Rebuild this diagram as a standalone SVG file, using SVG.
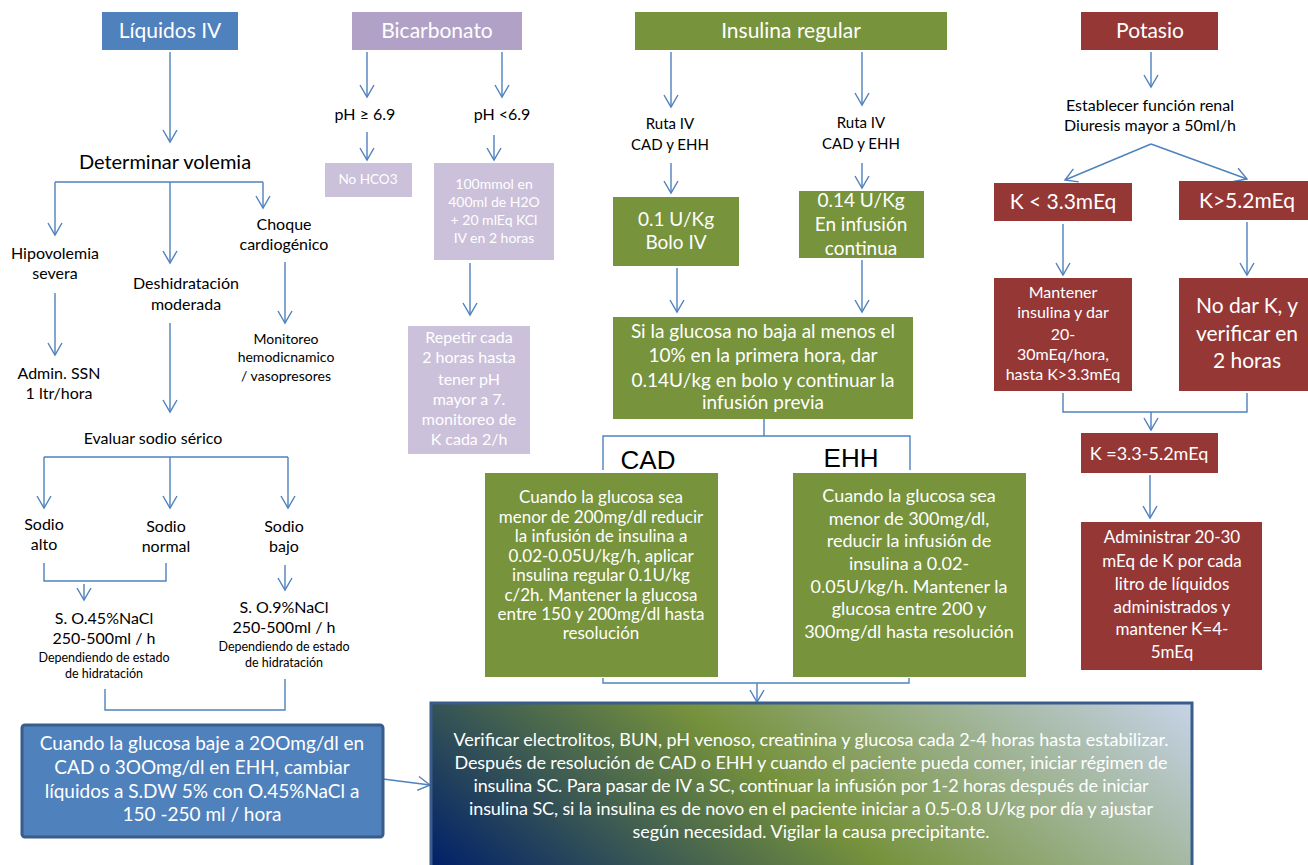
<svg xmlns="http://www.w3.org/2000/svg" width="1308" height="865" viewBox="0 0 1308 865">
<defs>
<style>
.t{font-family:Lato,'Open Sans','Liberation Sans',sans-serif;text-anchor:middle}
.w{fill:#ffffff}
.k{fill:#000000}
.ar{font-family:'Liberation Sans',Arial,sans-serif;text-anchor:middle;fill:#000}
.c{fill:none;stroke:#4f81bd;stroke-width:1.4}
.a{marker-end:url(#ah)}
.blue{fill:#4f81bd}
.lav{fill:#b2a1c7}
.lav2{fill:#ccc1da}
.grn{fill:#77933c}
.red{fill:#953735}
</style>
<marker id="ah" markerUnits="userSpaceOnUse" markerWidth="26" markerHeight="26" refX="13" refY="13" orient="auto" overflow="visible">
<path d="M1,6 L13,13 L1,20" fill="none" stroke="#4f81bd" stroke-width="1.4"/>
</marker>
<linearGradient id="gbg" gradientUnits="userSpaceOnUse" x1="431" y1="865" x2="807" y2="395">
<stop offset="0" stop-color="#00206a"/>
<stop offset="0.47" stop-color="#76923c"/>
<stop offset="1" stop-color="#c6d3e8"/>
</linearGradient>
</defs>
<rect width="1308" height="865" fill="#ffffff"/>

<g id="connectors">
<path class="c a" d="M170,52 V142"/>
<path class="c" d="M55,182 H263"/>
<path class="c a" d="M55,182 V235"/>
<path class="c a" d="M170,182 V263"/>
<path class="c a" d="M263,182 V208"/>
<path class="c a" d="M55,293 V355"/>
<path class="c a" d="M170,323 V412"/>
<path class="c a" d="M285,262 V323"/>
<path class="c" d="M44,457 H288"/>
<path class="c a" d="M44,457 V508"/>
<path class="c a" d="M170,457 V508"/>
<path class="c a" d="M288,457 V508"/>
<path class="c" d="M44,563 V581 H166 V563"/>
<path class="c a" d="M84,584 V600"/>
<path class="c a" d="M285,565 V590"/>
<path class="c" d="M105,689 V710 H285 V679"/>
<path class="c a" d="M383,779 L430,785"/>
<path class="c a" d="M367,52 V97"/>
<path class="c a" d="M502,52 V97"/>
<path class="c a" d="M367,132 V160"/>
<path class="c a" d="M494,135 V160"/>
<path class="c a" d="M470,263 V315"/>
<path class="c a" d="M671,52 V107"/>
<path class="c a" d="M862,52 V105"/>
<path class="c a" d="M671,163 V193"/>
<path class="c a" d="M862,163 V188"/>
<path class="c a" d="M677,268 V312"/>
<path class="c a" d="M862,260 V312"/>
<path class="c" d="M764,419 V436"/>
<path class="c" d="M603,470 V436 H910 V470"/>
<path class="c" d="M603,678 V683 H909 V678"/>
<path class="c a" d="M757,683 V702"/>
<path class="c a" d="M1151,52 V87"/>
<path class="c a" d="M1151,144 L1065,180"/>
<path class="c a" d="M1151,144 L1247,179"/>
<path class="c a" d="M1063,224 V275"/>
<path class="c a" d="M1247,222 V275"/>
<path class="c" d="M1063,393 V412 H1247 V393"/>
<path class="c a" d="M1151,412 V430"/>
<path class="c a" d="M1150,475 V518"/>
</g>

<g id="liquidos-iv">
<rect class="blue" x="102" y="12" width="136" height="38"/>
<text class="t w" x="170" y="38" font-size="21">Líquidos IV</text>
</g>
<g id="determinar-volemia">
<text class="t k" x="165" y="169" font-size="20">Determinar volemia</text>
</g>
<g id="hipovolemia">
<text class="t k" font-size="16"><tspan x="55" y="259">Hipovolemia</tspan><tspan x="55" y="279">severa</tspan></text>
</g>
<g id="deshidratacion">
<text class="t k" font-size="16"><tspan x="186" y="289">Deshidratación</tspan><tspan x="186" y="310">moderada</tspan></text>
</g>
<g id="choque">
<text class="t k" font-size="16"><tspan x="284" y="230">Choque</tspan><tspan x="284" y="250">cardiogénico</tspan></text>
</g>
<g id="admin-ssn">
<text class="t k" font-size="16"><tspan x="59" y="379">Admin. SSN</tspan><tspan x="59" y="399">1 ltr/hora</tspan></text>
</g>
<g id="monitoreo">
<text class="t k" font-size="14"><tspan x="286" y="344">Monitoreo</tspan><tspan x="286" y="362">hemodicnamico</tspan><tspan x="286" y="381">/ vasopresores</tspan></text>
</g>
<g id="evaluar-sodio">
<text class="t k" x="153" y="444" font-size="16">Evaluar sodio sérico</text>
</g>
<g id="sodio-alto">
<text class="t k" font-size="16"><tspan x="44" y="530">Sodio</tspan><tspan x="44" y="550">alto</tspan></text>
</g>
<g id="sodio-normal">
<text class="t k" font-size="16"><tspan x="166" y="532">Sodio</tspan><tspan x="166" y="552">normal</tspan></text>
</g>
<g id="sodio-bajo">
<text class="t k" font-size="16"><tspan x="284" y="532">Sodio</tspan><tspan x="284" y="552">bajo</tspan></text>
</g>
<g id="so-045">
<text class="t k" font-size="16"><tspan x="104" y="624">S. O.45%NaCl</tspan><tspan x="104" y="644">250-500ml / h</tspan></text>
<text class="t k" font-size="12.5"><tspan x="104" y="662">Dependiendo de estado</tspan><tspan x="104" y="678">de hidratación</tspan></text>
</g>
<g id="so-09">
<text class="t k" font-size="16"><tspan x="284" y="613">S. O.9%NaCl</tspan><tspan x="284" y="633">250-500ml / h</tspan></text>
<text class="t k" font-size="12.5"><tspan x="284" y="651">Dependiendo de estado</tspan><tspan x="284" y="667">de hidratación</tspan></text>
</g>
<g id="cambiar-liquidos">
<rect class="blue" x="22" y="725" width="361" height="112" rx="3" stroke="#385d8a" stroke-width="3"/>
<text class="t w" font-size="19"><tspan x="202" y="750">Cuando la glucosa baje a 2OOmg/dl en</tspan><tspan x="202" y="774">CAD o 3OOmg/dl en EHH, cambiar</tspan><tspan x="202" y="797.5">líquidos a S.DW 5% con O.45%NaCl a</tspan><tspan x="202" y="821">150 -250 ml / hora</tspan></text>
</g>

<g id="bicarbonato">
<rect class="lav" x="352" y="12" width="170" height="38"/>
<text class="t w" x="437" y="38" font-size="21">Bicarbonato</text>
</g>
<g id="ph-ge">
<text class="t k" x="365" y="120" font-size="16">pH ≥ 6.9</text>
</g>
<g id="ph-lt">
<text class="t k" x="502" y="120" font-size="16">pH &lt;6.9</text>
</g>
<g id="no-hco3">
<rect class="lav2" x="325" y="163" width="87" height="34"/>
<text class="t w" x="368" y="184" font-size="13.5">No HCO3</text>
</g>
<g id="mmol">
<rect class="lav2" x="434" y="163" width="120" height="97"/>
<text class="t w" font-size="14"><tspan x="494" y="189">100mmol en</tspan><tspan x="494" y="207">400ml de H2O</tspan><tspan x="494" y="225">+ 20 mlEq KCl</tspan><tspan x="494" y="243">IV en 2 horas</tspan></text>
</g>
<g id="repetir">
<rect class="lav2" x="408" y="326" width="122" height="128"/>
<text class="t w" font-size="16"><tspan x="469" y="343">Repetir cada</tspan><tspan x="469" y="363">2 horas hasta</tspan><tspan x="469" y="385">tener pH</tspan><tspan x="469" y="405">mayor a 7.</tspan><tspan x="469" y="425">monitoreo de</tspan><tspan x="469" y="445">K cada 2/h</tspan></text>
</g>

<g id="insulina-regular">
<rect class="grn" x="635" y="12" width="312" height="38"/>
<text class="t w" x="791" y="38" font-size="21">Insulina regular</text>
</g>
<g id="ruta-iv-1">
<text class="t k" font-size="15"><tspan x="670" y="129">Ruta IV</tspan><tspan x="670" y="150">CAD y EHH</tspan></text>
</g>
<g id="ruta-iv-2">
<text class="t k" font-size="15"><tspan x="861" y="128">Ruta IV</tspan><tspan x="861" y="149">CAD y EHH</tspan></text>
</g>
<g id="bolo-iv">
<rect class="grn" x="613" y="197" width="126" height="69"/>
<text class="t w" font-size="19"><tspan x="676" y="226">0.1 U/Kg</tspan><tspan x="676" y="249">Bolo IV</tspan></text>
</g>
<g id="infusion-continua">
<rect class="grn" x="799" y="191" width="125" height="67"/>
<text class="t w" font-size="19"><tspan x="861" y="207">0.14 U/Kg</tspan><tspan x="861" y="231">En infusión</tspan><tspan x="861" y="255">continua</tspan></text>
</g>
<g id="glucosa-no-baja">
<rect class="grn" x="613" y="317" width="300" height="102"/>
<text class="t w" font-size="19"><tspan x="763" y="338">Si la glucosa no baja al menos el</tspan><tspan x="763" y="362">10% en la primera hora, dar</tspan><tspan x="763" y="387">0.14U/kg en bolo y continuar la</tspan><tspan x="763" y="409">infusión previa</tspan></text>
</g>
<g id="cad">
<text class="ar" x="648" y="469" font-size="26">CAD</text>
<rect class="grn" x="485" y="473" width="233" height="204"/>
<text class="t w" font-size="17"><tspan x="601" y="503">Cuando la glucosa sea</tspan><tspan x="601" y="523">menor de 200mg/dl reducir</tspan><tspan x="601" y="542">la infusión de insulina a</tspan><tspan x="601" y="562">0.02-0.05U/kg/h, aplicar</tspan><tspan x="601" y="581">insulina regular 0.1U/kg</tspan><tspan x="601" y="601">c/2h. Mantener la glucosa</tspan><tspan x="601" y="620">entre 150 y 200mg/dl hasta</tspan><tspan x="601" y="639">resolución</tspan></text>
</g>
<g id="ehh">
<text class="ar" x="851" y="467" font-size="26">EHH</text>
<rect class="grn" x="793" y="473" width="233" height="204"/>
<text class="t w" font-size="18"><tspan x="909" y="502">Cuando la glucosa sea</tspan><tspan x="909" y="525">menor de 300mg/dl,</tspan><tspan x="909" y="547">reducir la infusión de</tspan><tspan x="909" y="570">insulina a 0.02-</tspan><tspan x="909" y="593">0.05U/kg/h. Mantener la</tspan><tspan x="909" y="615">glucosa entre 200 y</tspan><tspan x="909" y="638">300mg/dl hasta resolución</tspan></text>
</g>
<g id="verificar">
<rect x="431" y="703" width="761" height="175" fill="url(#gbg)" stroke="#385d8a" stroke-width="3"/>
<text class="t w" font-size="18"><tspan x="811" y="746" textLength="715">Verificar electrolitos, BUN, pH venoso, creatinina y glucosa cada 2-4 horas hasta estabilizar.</tspan><tspan x="811" y="769" textLength="713">Después de resolución de CAD o EHH y cuando el paciente pueda comer, iniciar régimen de</tspan><tspan x="811" y="792" textLength="675">insulina SC. Para pasar de IV a SC, continuar la infusión por 1-2 horas después de iniciar</tspan><tspan x="811" y="815" textLength="684">insulina SC, si la insulina es de novo en el paciente iniciar a 0.5-0.8 U/kg por día y ajustar</tspan><tspan x="811" y="838" textLength="357">según necesidad. Vigilar la causa precipitante.</tspan></text>
</g>

<g id="potasio">
<rect class="red" x="1081" y="12" width="137" height="38"/>
<text class="t w" x="1150" y="38" font-size="21">Potasio</text>
</g>
<g id="funcion-renal">
<text class="t k" font-size="16"><tspan x="1150" y="111">Establecer función renal</tspan><tspan x="1150" y="131">Diuresis mayor a 50ml/h</tspan></text>
</g>
<g id="k-bajo">
<rect class="red" x="994" y="183" width="138" height="38"/>
<text class="t w" x="1063" y="209" font-size="21">K &lt; 3.3mEq</text>
</g>
<g id="k-alto">
<rect class="red" x="1179" y="181" width="129" height="39"/>
<text class="t w" x="1247" y="208" font-size="21">K&gt;5.2mEq</text>
</g>
<g id="mantener-insulina">
<rect class="red" x="994" y="278" width="138" height="113"/>
<text class="t w" font-size="16"><tspan x="1063" y="298">Mantener</tspan><tspan x="1063" y="318">insulina y dar</tspan><tspan x="1063" y="340">20-</tspan><tspan x="1063" y="360">30mEq/hora,</tspan><tspan x="1063" y="380">hasta K&gt;3.3mEq</tspan></text>
</g>
<g id="no-dar-k">
<rect class="red" x="1179" y="278" width="129" height="113"/>
<text class="t w" font-size="21"><tspan x="1247" y="313">No dar K, y</tspan><tspan x="1247" y="341">verificar en</tspan><tspan x="1247" y="368">2 horas</tspan></text>
</g>
<g id="k-normal">
<rect class="red" x="1081" y="433" width="137" height="40"/>
<text class="t w" x="1149" y="460" font-size="18">K =3.3-5.2mEq</text>
</g>
<g id="administrar-k">
<rect class="red" x="1081" y="522" width="181" height="148"/>
<text class="t w" font-size="17"><tspan x="1172" y="543">Administrar 20-30</tspan><tspan x="1172" y="567">mEq de K por cada</tspan><tspan x="1172" y="590">litro de líquidos</tspan><tspan x="1172" y="613">administrados y</tspan><tspan x="1172" y="635">mantener K=4-</tspan><tspan x="1172" y="658">5mEq</tspan></text>
</g>
</svg>
